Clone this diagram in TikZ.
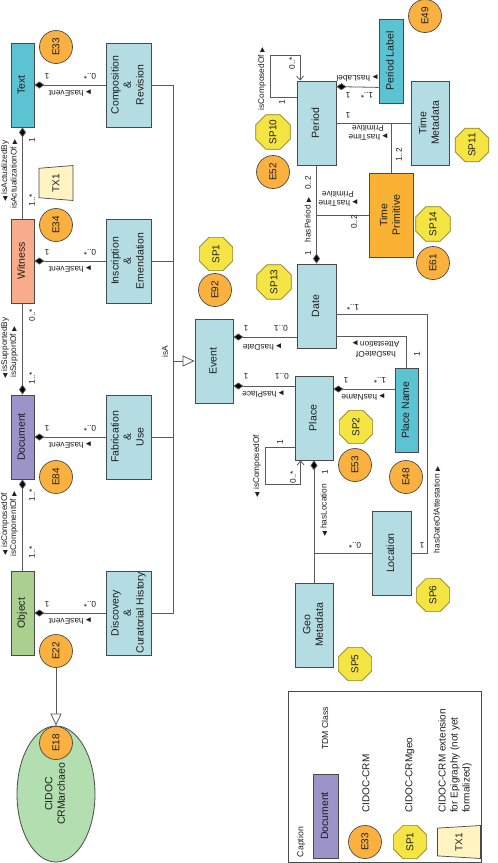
\documentclass[tikz,border=0pt]{standalone}
\usepackage{graphicx}
\usepackage{fontspec}
\setmainfont{Liberation Sans}
\newfontfamily\dvfont{DejaVu Sans}
\usetikzlibrary{shapes.geometric, arrows.meta}
\definecolor{cyanc}{HTML}{5CC3D3}
\definecolor{lblue}{HTML}{B3DCE3}
\definecolor{salmon}{HTML}{F9AC8C}
\definecolor{purp}{HTML}{9C93C9}
\definecolor{grn}{HTML}{A9D08E}
\definecolor{orng}{HTML}{FBB13F}
\definecolor{tporng}{HTML}{F9B233}
\definecolor{yel}{HTML}{F4E444}
\definecolor{yelbd}{HTML}{8F8020}
\definecolor{txfill}{HTML}{FFF4C2}
\definecolor{ellg}{HTML}{B3DEAF}
\definecolor{bd}{HTML}{4A4A4A}
\definecolor{ln}{HTML}{5A5A5A}
\definecolor{txt}{HTML}{1E1E1E}
\newcommand\rt[1]{\rotatebox{90}{\begin{tabular}{@{}c@{}}#1\end{tabular}}}
\newcommand\rtri{{\dvfont\fontsize{6.5}{6.5}\selectfont ▶}}
\newcommand\ltri{{\dvfont\fontsize{6.5}{6.5}\selectfont ◀}}
\newcommand\boxfont{\fontsize{10.5}{12.5}\selectfont}
\newcommand\lblfont{\fontsize{8.3}{9.5}\selectfont}
\newcommand\legfont{\fontsize{10}{12}\selectfont}
\tikzset{
  box/.style={draw=bd, line width=0.8pt, inner sep=0pt, font=\boxfont, text=txt},
  colA/.style={box, minimum width=23pt, minimum height=84pt},
  evbox/.style={box, fill=lblue, minimum height=84pt, minimum width=#1},
  ecirc/.style={circle, draw=bd, line width=0.7pt, fill=orng, minimum size=33pt, inner sep=0pt, rotate=90, font=\fontsize{10}{12}\selectfont, text=txt},
  spoct/.style={regular polygon, regular polygon sides=8, draw=yelbd, line width=0.7pt, fill=yel, minimum size=36pt, inner sep=0pt, rotate=90, font=\fontsize{10}{12}\selectfont, text=txt},
  txshape/.style={trapezium, trapezium stretches=true, trapezium angle=76, draw=bd, line width=0.7pt, fill=txfill, inner sep=0pt, rotate=90, font=\fontsize{10}{12}\selectfont, text=txt},
  lbl/.style={font=\lblfont, inner sep=0pt, text=txt, align=center},
  rl/.style={lbl, rotate=90},
  ud/.style={lbl, rotate=180},
  assoc/.style={draw=ln, line width=0.8pt},
  whole/.style={assoc, {Diamond[length=10pt,width=7pt,fill=black]}-},
  part/.style={assoc, -{Diamond[length=10pt,width=7pt,fill=black]}},
  isa/.style={assoc, -{Triangle[open, length=12pt, width=11pt, fill=white]}},
  selfloop/.style={assoc, -{Straight Barb[length=4pt, width=7pt]}},
}
\begin{document}
\begin{tikzpicture}[x=1pt, y=1pt]
\useasboundingbox (0,0) rectangle (498,-863);
\fill[white] (0,0) rectangle (498,-863);

% ---- left column classes
\node[colA, fill=cyanc]  (text)     at (22.5,-85)  {\rt{Text}};
\node[colA, fill=salmon] (witness)  at (22.5,-261) {\rt{Witness}};
\node[colA, fill=purp]   (document) at (22.5,-437) {\rt{Document}};
\node[colA, fill=grn]    (object)   at (22.5,-613) {\rt{Object}};

\node[evbox=45pt] (comp) at (128.5,-85)  {\rt{Composition\\\&\\Revision}};
\node[evbox=45pt] (insc) at (128.5,-261) {\rt{Inscription\\\&\\Emendation}};
\node[evbox=45pt] (fabr) at (128.5,-437) {\rt{Fabrication\\\&\\Use}};
\node[evbox=45pt] (disc) at (128.5,-613) {\rt{Discovery\\\&\\Curatorial History}};

\node[evbox=38pt] (event)  at (214,-361)   {\rt{Event}};
\node[evbox=39pt] (period) at (316.5,-123) {\rt{Period}};
\node[evbox=39pt] (date)   at (316.5,-306) {\rt{Date}};
\node[evbox=38pt] (place)  at (314,-418)   {\rt{Place}};
\node[evbox=38pt] (geo)    at (314,-625)   {\rt{Geo\\Metadata}};
\node[evbox=39pt] (loc)    at (391.5,-553) {\rt{Location}};
\node[evbox=38pt] (tmeta)  at (430,-123)   {\rt{Time\\Metadata}};
\node[box, fill=tporng, minimum width=44pt, minimum height=84pt] (tprim) at (391,-215) {\rt{Time\\Primitive}};
\node[colA, fill=cyanc, minimum width=24pt] (plabel) at (391,-61) {\rt{Period Label}};
\node[colA, fill=cyanc] (pname) at (406.5,-410) {\rt{Place Name}};

% ---- ellipse
\node[ellipse, draw=bd, line width=0.8pt, fill=ellg, minimum width=78pt, minimum height=136pt, inner sep=0pt, font=\boxfont, text=txt] (ell) at (56,-794) {\rt{CIDOC\\CRMarchaeo}};

% ---- circles
\node[ecirc] (e33) at (56,-47) {E33};
\node[ecirc] (e34) at (56,-225) {E34};
\node[ecirc] (e84) at (56,-477) {E84};
\node[ecirc] (e22) at (56,-651) {E22};
\node[ecirc] (e18) at (56,-743) {E18};
\node[ecirc] (e92) at (215,-290) {E92};
\node[ecirc] (e52) at (273,-172) {E52};
\node[ecirc] (e61) at (433,-263) {E61};
\node[ecirc] (e49) at (425,-16) {E49};
\node[ecirc] (e53) at (355,-465) {E53};
\node[ecirc] (e48) at (406,-477) {E48};

% ---- octagons
\node[spoct] (sp1)  at (216,-254) {SP1};
\node[spoct] (sp10) at (273,-132) {SP10};
\node[spoct] (sp13) at (274,-282) {SP13};
\node[spoct] (sp11) at (472,-145) {SP11};
\node[spoct] (sp14) at (433,-224) {SP14};
\node[spoct] (sp2)  at (356,-427) {SP2};
\node[spoct] (sp6)  at (433,-595) {SP6};
\node[spoct] (sp5)  at (355,-664) {SP5};

\node[txshape, minimum width=35pt, minimum height=34pt] (tx1) at (56,-183) {TX1};

% ---- connectors, left part
\draw[whole] (text) -- (comp);
\draw[whole] (witness) -- (insc);
\draw[whole] (document) -- (fabr);
\draw[whole] (object) -- (disc);
\draw[whole] (text) -- (witness);
\draw[part] (witness) -- (document);
\draw[whole] (document) -- (object);

\coordinate (bus) at (173,-361);
\draw[assoc] (comp.east) -- (comp.east -| bus) -- (disc.east -| bus) -- (disc.east);
\draw[assoc] (insc.east) -- (insc.east -| bus);
\draw[assoc] (fabr.east) -- (fabr.east -| bus);
\draw[isa] (bus) -- (event);
\draw[isa] (e22) -- (ell);

% ---- connectors, right part
\draw[whole] ([yshift=24pt]event.east) -- ([yshift=-31pt]date.west);
\draw[whole] ([yshift=-25pt]event.east) -- ([yshift=32pt]place.west);

\draw[whole] (date) -- (period);
\draw[assoc] (tprim) -- (tprim.west -| date.north);
\draw[assoc] (period) -- (tmeta);
\draw[assoc] (tprim) -- (tprim.north |- tmeta.west);
\draw[whole] ([yshift=-6pt]period.north east) -- ([yshift=16pt]plabel.south west);
\coordinate (ploop) at (270,-55);
\draw[selfloop] ([yshift=-17pt]period.north west) -| (ploop) -| ([xshift=3.5pt]period.north west);

\draw[assoc] ([yshift=-30pt]date.east) -| (pname.north);
\coordinate (dloc) at (427,-553);
\draw[assoc] ([yshift=-8pt]date.east) -| (dloc) -- (loc.east);

\draw[whole] ([yshift=29pt]place.east) -- ([yshift=21pt]pname.west);
\draw[whole] (place) -- (geo);
\draw[assoc] (loc) -- (loc.west -| geo.north);
\coordinate (plloop) at (265,-484);
\draw[selfloop] ([yshift=13pt]place.south west) -| (plloop) -| ([xshift=6pt]place.south west);

% ---- labels, left column
\node[ud] (la1) at (47,-76) {1};
\node[ud] (la2) at (90,-76) {0..*};
\node[ud] (la3) at (70,-93) {\rtri\ hasEvent};
\node[ud] (lb1) at (47,-252) {1};
\node[ud] (lb2) at (90,-252) {0..*};
\node[ud] (lb3) at (70,-269) {\rtri\ hasEvent};
\node[ud] (lc1) at (47,-428) {1};
\node[ud] (lc2) at (90,-428) {0..*};
\node[ud] (lc3) at (70,-445) {\rtri\ hasEvent};
\node[ud] (ld1) at (47,-604) {1};
\node[ud] (ld2) at (90,-604) {0..*};
\node[ud] (ld3) at (70,-621) {\rtri\ hasEvent};

\node[rl] (lv1) at (32,-140) {1};
\node[rl] (lv2) at (32,-200) {1..*};
\node[rl] (lv3) at (5,-171) {\ltri\ isActualizedBy};
\node[rl] (lv4) at (14,-174) {isActualizationOf \rtri};
\node[rl] (lv5) at (32,-315) {0..*};
\node[rl] (lv6) at (32,-378) {1..*};
\node[rl] (lv7) at (5,-348) {\ltri\ isSupportedBy};
\node[rl] (lv8) at (14,-352) {isSupportOf \rtri};
\node[rl] (lv9) at (32,-495) {1..*};
\node[rl] (lv10) at (32,-552) {1..*};
\node[rl] (lv11) at (5,-524) {\ltri\ isComposedOf};
\node[rl] (lv12) at (14,-524) {isComponentOf \rtri};
\node[rl] (lisa) at (165,-352) {isA};

% ---- labels, event
\node[ud] (le1) at (246,-328) {1};
\node[ud] (le2) at (281,-328) {0..1};
\node[ud] (le3) at (262,-347) {\rtri\ hasDate};
\node[ud] (le4) at (246,-376) {1};
\node[ud] (le5) at (282,-376) {0..1};
\node[ud] (le6) at (263,-394) {\rtri\ hasPlace};

% ---- labels, period
\node[rl] (lp1) at (262,-79) {isComposedOf \rtri};
\node[rl] (lp2) at (282,-102) {1};
\node[rl] (lp3) at (292,-63) {0..*};
\node[ud] (lp4) at (357,-78) {\rtri\ hasLabel};
\node[ud] (lp5) at (348,-95) {1};
\node[ud] (lp6) at (367,-95) {1..*};
\node[ud] (lp7) at (348,-115) {1};
\node[ud] (lp8) at (368,-133) {\rtri\ hasTime\\Primitive};
\node[rl] (lp9) at (399,-155) {1..2};
\node[rl] (lp10) at (308,-253) {1};
\node[rl] (lp11) at (308,-220) {hasPeriod \rtri};
\node[rl] (lp12) at (308,-183) {0..2};
\node[ud] (lp13) at (338,-199) {\rtri\ hasTime\\Primitive};
\node[rl] (lp14) at (354,-222) {0..2};

% ---- labels, date / place
\node[ud] (lq1) at (353,-307) {1..*};
\node[ud] (lq2) at (422,-545) {1};
\node[rl] (lq3) at (437,-510) {hasDateOfAttestation \rtri};
\node[ud] (lq4) at (376,-349) {hasDateOf\\Attestation \rtri};
\node[rl] (lq5) at (417,-354) {1};
\node[ud] (lr1) at (346,-380) {1};
\node[ud] (lr2) at (380,-380) {1..*};
\node[ud] (lr3) at (363,-397) {\rtri\ hasName};
\node[rl] (lr4) at (280,-442) {1};
\node[rl] (lr5) at (293,-477) {0..*};
\node[rl] (lr6) at (257,-466) {\ltri\ isComposedOf};
\node[rl] (lr7) at (325,-472) {1};
\node[rl] (lr8) at (324,-510) {\ltri\ hasLocation};
\node[ud] (lr9) at (355,-545) {0..*};

% ---- legend
\node[draw=bd, line width=0.8pt, minimum width=193pt, minimum height=171pt, inner sep=0pt] (legend) at (384.5,-776.5) {};
\node[rl, font=\fontsize{8.7}{10}\selectfont] (capt) at (301,-842) {Caption};
\node[colA, fill=purp, minimum width=25pt] (docl) at (325.5,-816) {\rt{Document}};
\node[rl, font=\fontsize{8.7}{10}\selectfont, anchor=west] (tdm) at (325,-750) {TDM Class};
\node[ecirc] (e33l) at (365,-842) {E33};
\node[rl, font=\legfont, anchor=west] (crm) at (366,-813) {CIDOC-CRM};
\node[spoct] (sp1l) at (410,-842) {SP1};
\node[rl, font=\legfont, anchor=west] (crmgeo) at (410,-813) {CIDOC-CRMgeo};
\node[txshape, minimum width=33pt, minimum height=43pt] (tx1l) at (459,-842) {TX1};
\node[rl, font=\legfont, align=left, anchor=west] (ext) at (455,-813) {CIDOC-CRM extension\\for Epigraphy (not yet\\formalized)};
\end{tikzpicture}
\end{document}
